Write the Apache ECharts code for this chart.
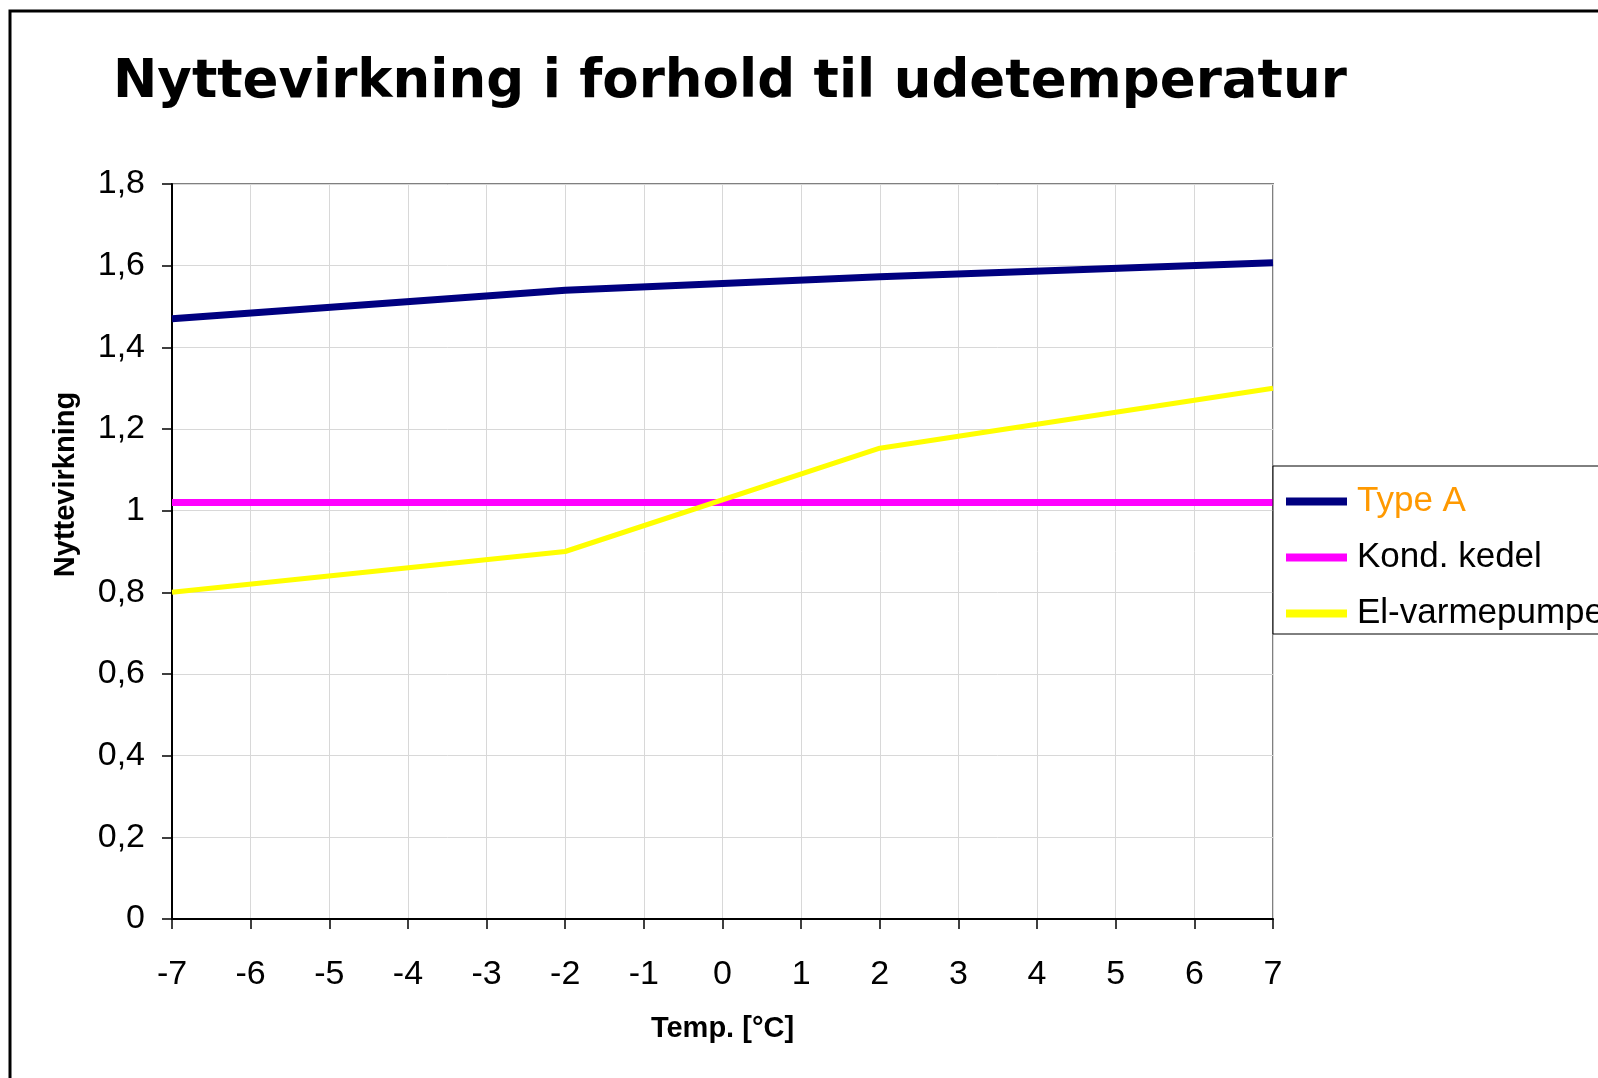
<!DOCTYPE html>
<html><head><meta charset="utf-8">
<script src="https://cdn.jsdelivr.net/npm/echarts@6/dist/echarts.min.js"></script>
<style>html,body{margin:0;padding:0;background:#fff}#c{width:1598px;height:1078px}</style>
</head><body><div id="c"></div>
<script>
const temps = [-7, -2, 2, 7];
const typeA = [1.47, 1.54, 1.573, 1.607];
const kondKedel = [1.02, 1.02, 1.02, 1.02];
const elVarmepumpe = [0.80, 0.90, 1.153, 1.30];
const seriesNames = ['Type A', 'Kond. kedel', 'El-varmepumpe'];
const yTicks = {min: 0, max: 1.8, interval: 0.2};
const xTicks = {min: -7, max: 7, interval: 1};

const pair = (arr) => temps.map((t, i) => [t, arr[i]]);
const chart = echarts.init(document.getElementById('c'));
chart.setOption({
  animation: false,
  backgroundColor: '#fff',
  graphic: [{type: 'rect', shape: {x: 10, y: 11, width: 2000, height: 2000}, style: {fill: 'none', stroke: '#000', lineWidth: 3}, z: 100}],
  title: {text: 'Nyttevirkning i forhold til udetemperatur', left: 108, top: 52,
    textStyle: {fontFamily: 'DejaVu Sans', fontWeight: 'bold', fontSize: 53, color: '#000'}},
  grid: {left: 172, top: 184, width: 1101, height: 735, show: true, borderColor: '#808080', borderWidth: 2, containLabel: false},
  legend: {orient: 'vertical', left: 1273, top: 466, itemWidth: 61, itemHeight: 8, itemGap: 21,
    padding: [18, 200, 3, 13], borderColor: '#000', borderWidth: 1, backgroundColor: '#fff',
    textStyle: {fontFamily: 'Liberation Sans', fontSize: 35, color: '#000', padding: [0, 0, 0, 5]},
    icon: 'rect',
    data: [
      {name: seriesNames[0], textStyle: {color: '#FF9900'}},
      {name: seriesNames[1]},
      {name: seriesNames[2]}
    ]},
  xAxis: {type: 'value', min: xTicks.min, max: xTicks.max, interval: xTicks.interval,
    name: 'Temp. [°C]', nameLocation: 'middle', nameGap: 95,
    nameTextStyle: {fontFamily: 'Liberation Sans', fontWeight: 'bold', fontSize: 29, color: '#000'},
    axisLine: {onZero: false, lineStyle: {color: '#000', width: 2}},
    axisTick: {show: true, inside: false, length: 10, lineStyle: {color: '#000', width: 1.5}},
    axisLabel: {fontFamily: 'Liberation Sans', fontSize: 34, color: '#000', margin: 39},
    splitLine: {show: true, lineStyle: {color: '#d8d8d8', width: 1}}},
  yAxis: {type: 'value', min: yTicks.min, max: yTicks.max, interval: yTicks.interval,
    name: 'Nyttevirkning', nameLocation: 'middle', nameGap: 92,
    nameTextStyle: {fontFamily: 'Liberation Sans', fontWeight: 'bold', fontSize: 29, color: '#000', padding: [0, 0, 0, 134]},
    axisLine: {show: true, onZero: false, lineStyle: {color: '#000', width: 2}},
    axisTick: {show: true, inside: false, length: 10, lineStyle: {color: '#000', width: 1.5}},
    axisLabel: {fontFamily: 'Liberation Sans', fontSize: 34, color: '#000', margin: 27,
      formatter: v => String(Math.round(v * 10) / 10).replace('.', ',')},
    splitLine: {show: true, lineStyle: {color: '#d8d8d8', width: 1}}},
  series: [
    {name: seriesNames[0], type: 'line', data: pair(typeA), showSymbol: false, symbol: 'none',
      lineStyle: {color: '#000080', width: 7}, itemStyle: {color: '#000080'}, z: 3},
    {name: seriesNames[1], type: 'line', data: pair(kondKedel), showSymbol: false, symbol: 'none',
      lineStyle: {color: '#FF00FF', width: 7}, itemStyle: {color: '#FF00FF'}, z: 2},
    {name: seriesNames[2], type: 'line', data: pair(elVarmepumpe), showSymbol: false, symbol: 'none',
      lineStyle: {color: '#FFFF00', width: 5}, itemStyle: {color: '#FFFF00'}, z: 4}
  ]
});
</script></body></html>
